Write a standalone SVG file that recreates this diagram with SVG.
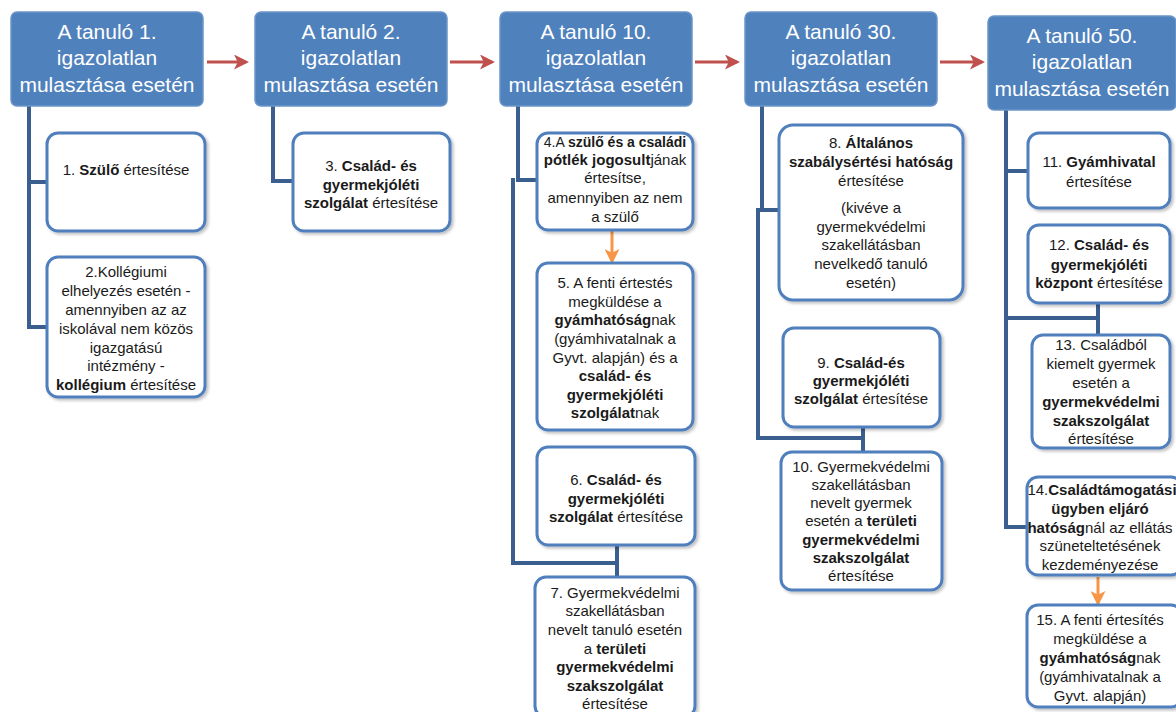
<svg xmlns="http://www.w3.org/2000/svg" width="1176" height="712" viewBox="0 0 1176 712">
<defs>
<style>
.hdr{fill:#4F81BD;stroke:#6b95c8;stroke-width:1.5}
.ht{font-family:"Liberation Sans",Arial,sans-serif;font-size:21px;fill:#fff;text-anchor:middle}
.box{fill:#fff;stroke:#4F7FBC;stroke-width:3;filter:url(#sh)}
.t{font-family:"Liberation Sans",Arial,sans-serif;font-size:15px;fill:#1a1a1a;text-anchor:middle}
.b{font-weight:bold}
.ln{fill:none;stroke:#3A5E8E;stroke-width:4}
.red{fill:none;stroke:#C0504D;stroke-width:3}
.org{fill:none;stroke:#F79646;stroke-width:3}
</style>
<filter id="sh" x="-10%" y="-10%" width="130%" height="130%">
<feDropShadow dx="2" dy="2" stdDeviation="1.5" flood-color="#000" flood-opacity="0.25"/>
</filter>
<marker id="ar" viewBox="0 0 10 10" refX="8" refY="5" markerWidth="5" markerHeight="5" orient="auto" markerUnits="strokeWidth">
<path d="M0,0 L10,5 L0,10 L2.5,5 z" fill="#C0504D"/>
</marker>
<marker id="ao" viewBox="0 0 10 10" refX="8" refY="5" markerWidth="5" markerHeight="5" orient="auto" markerUnits="strokeWidth">
<path d="M0,0 L10,5 L0,10 L2.5,5 z" fill="#F79646"/>
</marker>
</defs>
<rect width="1176" height="712" fill="#fff"/>

<g id="connectors">
<path class="red" d="M207,62 H246" marker-end="url(#ar)"/>
<path class="red" d="M450,62 H492" marker-end="url(#ar)"/>
<path class="red" d="M695,62 H737" marker-end="url(#ar)"/>
<path class="red" d="M940,62 H982" marker-end="url(#ar)"/>
<path class="ln" d="M29,106 V327"/>
<path class="ln" d="M27,182 H47"/>
<path class="ln" d="M27,327 H47"/>
<path class="ln" d="M273,106 V181 H293"/>
<path class="ln" d="M518,106 V180 H537"/>
<path class="ln" d="M513,178 V563 H617"/>
<path class="ln" d="M617,545 V577"/>
<path class="ln" d="M762,106 V210"/>
<path class="ln" d="M756,210 H779"/>
<path class="ln" d="M758,208 V438 H863"/>
<path class="ln" d="M863,427 V452"/>
<path class="ln" d="M1006,110 V527 H1027"/>
<path class="ln" d="M1004,171 H1028"/>
<path class="ln" d="M1004,318 H1098"/>
<path class="ln" d="M1098,303 V335"/>
<path class="org" d="M612,231 V261" marker-end="url(#ao)"/>
<path class="org" d="M1098,577 V603" marker-end="url(#ao)"/>
</g>

<g id="h1"><rect class="hdr" x="11" y="12" width="192" height="94" rx="6"/>
<text class="ht" x="107" y="39">A tanuló 1.</text><text class="ht" x="107" y="65">igazolatlan</text><text class="ht" x="107" y="92">mulasztása esetén</text></g>
<g id="h2"><rect class="hdr" x="255" y="12" width="192" height="94" rx="6"/>
<text class="ht" x="351" y="39">A tanuló 2.</text><text class="ht" x="351" y="65">igazolatlan</text><text class="ht" x="351" y="92">mulasztása esetén</text></g>
<g id="h3"><rect class="hdr" x="500" y="12" width="192" height="94" rx="6"/>
<text class="ht" x="596" y="39">A tanuló 10.</text><text class="ht" x="596" y="65">igazolatlan</text><text class="ht" x="596" y="92">mulasztása esetén</text></g>
<g id="h4"><rect class="hdr" x="745" y="12" width="192" height="94" rx="6"/>
<text class="ht" x="841" y="39">A tanuló 30.</text><text class="ht" x="841" y="65">igazolatlan</text><text class="ht" x="841" y="92">mulasztása esetén</text></g>
<g id="h5"><rect class="hdr" x="988" y="16" width="188" height="94" rx="6"/>
<text class="ht" x="1082" y="43">A tanuló 50.</text><text class="ht" x="1082" y="69">igazolatlan</text><text class="ht" x="1082" y="96">mulasztása esetén</text></g>

<g id="n1"><rect class="box" x="47" y="133" width="158" height="98" rx="11"/>
<text class="t" x="126" y="175">1. <tspan class="b">Szülő</tspan> értesítése</text></g>
<g id="n2"><rect class="box" x="47" y="257" width="158" height="140" rx="11"/>
<text class="t" x="126" y="277">2.Kollégiumi</text>
<text class="t" x="126" y="296">elhelyezés esetén -</text>
<text class="t" x="126" y="315">amennyiben az az</text>
<text class="t" x="126" y="334">iskolával nem közös</text>
<text class="t" x="126" y="353">igazgatású</text>
<text class="t" x="126" y="371">intézmény -</text>
<text class="t" x="126" y="390"><tspan class="b">kollégium</tspan> értesítése</text></g>

<g id="n3"><rect class="box" x="293" y="133" width="157" height="98" rx="11"/>
<text class="t" x="371" y="171">3. <tspan class="b">Család- és</tspan></text>
<text class="t b" x="371" y="190">gyermekjóléti</text>
<text class="t" x="371" y="208"><tspan class="b">szolgálat</tspan> értesítése</text></g>

<g id="n4"><rect class="box" x="537" y="133" width="156" height="97" rx="11"/>
<text class="t" x="615" y="147" style="font-size:14px">4.A <tspan class="b">szülő és a családi</tspan></text>
<text class="t" x="615" y="165"><tspan class="b">pótlék jogosult</tspan>jának</text>
<text class="t" x="615" y="183">értesítse,</text>
<text class="t" x="615" y="203">amennyiben az nem</text>
<text class="t" x="615" y="222">a szülő</text></g>
<g id="n5"><rect class="box" x="537" y="263" width="156" height="167" rx="11"/>
<text class="t" x="615" y="288">5. A fenti értestés</text>
<text class="t" x="615" y="307">megküldése a</text>
<text class="t" x="615" y="325"><tspan class="b">gyámhatóság</tspan>nak</text>
<text class="t" x="615" y="344">(gyámhivatalnak a</text>
<text class="t" x="615" y="363">Gyvt. alapján) és a</text>
<text class="t b" x="615" y="381">család- és</text>
<text class="t b" x="615" y="400">gyermekjóléti</text>
<text class="t" x="615" y="418"><tspan class="b">szolgálat</tspan>nak</text></g>
<g id="n6"><rect class="box" x="537" y="447" width="158" height="98" rx="11"/>
<text class="t" x="616" y="485">6. <tspan class="b">Család- és</tspan></text>
<text class="t b" x="616" y="504">gyermekjóléti</text>
<text class="t" x="616" y="522"><tspan class="b">szolgálat</tspan> értesítése</text></g>
<g id="n7"><rect class="box" x="535" y="577" width="160" height="140" rx="11"/>
<text class="t" x="615" y="598">7. Gyermekvédelmi</text>
<text class="t" x="615" y="616">szakellátásban</text>
<text class="t" x="615" y="635">nevelt tanuló esetén</text>
<text class="t" x="615" y="654">a <tspan class="b">területi</tspan></text>
<text class="t b" x="615" y="672">gyermekvédelmi</text>
<text class="t b" x="615" y="691">szakszolgálat</text>
<text class="t" x="615" y="709">értesítése</text></g>

<g id="n8"><rect class="box" x="779" y="125" width="184" height="175" rx="14"/>
<text class="t" x="871" y="148">8. <tspan class="b">Általános</tspan></text>
<text class="t b" x="871" y="167">szabálysértési hatóság</text>
<text class="t" x="871" y="186">értesítése</text>
<text class="t" x="871" y="213">(kivéve a</text>
<text class="t" x="871" y="232">gyermekvédelmi</text>
<text class="t" x="871" y="250">szakellátásban</text>
<text class="t" x="871" y="269">nevelkedő tanuló</text>
<text class="t" x="871" y="288">esetén)</text></g>
<g id="n9"><rect class="box" x="783" y="328" width="157" height="99" rx="11"/>
<text class="t" x="861" y="368">9. <tspan class="b">Család-és</tspan></text>
<text class="t b" x="861" y="386">gyermekjóléti</text>
<text class="t" x="861" y="404"><tspan class="b">szolgálat</tspan> értesítése</text></g>
<g id="n10"><rect class="box" x="781" y="452" width="161" height="138" rx="11"/>
<text class="t" x="861" y="472">10. Gyermekvédelmi</text>
<text class="t" x="861" y="490">szakellátásban</text>
<text class="t" x="861" y="508">nevelt gyermek</text>
<text class="t" x="861" y="526">esetén a <tspan class="b">területi</tspan></text>
<text class="t b" x="861" y="545">gyermekvédelmi</text>
<text class="t b" x="861" y="563">szakszolgálat</text>
<text class="t" x="861" y="581">értesítése</text></g>

<g id="n11"><rect class="box" x="1028" y="133" width="142" height="75" rx="11"/>
<text class="t" x="1099" y="167">11. <tspan class="b">Gyámhivatal</tspan></text>
<text class="t" x="1099" y="187">értesítése</text></g>
<g id="n12"><rect class="box" x="1028" y="225" width="142" height="78" rx="11"/>
<text class="t" x="1099" y="250">12. <tspan class="b">Család- és</tspan></text>
<text class="t b" x="1099" y="270">gyermekjóléti</text>
<text class="t" x="1099" y="288"><tspan class="b">központ</tspan> értesítése</text></g>
<g id="n13"><rect class="box" x="1032" y="335" width="138" height="113" rx="11"/>
<text class="t" x="1101" y="350">13. Családból</text>
<text class="t" x="1101" y="369">kiemelt gyermek</text>
<text class="t" x="1101" y="388">esetén a</text>
<text class="t b" x="1101" y="407">gyermekvédelmi</text>
<text class="t b" x="1101" y="426">szakszolgálat</text>
<text class="t" x="1101" y="444">értesítése</text></g>
<g id="n14"><rect class="box" x="1027" y="477" width="155" height="98" rx="11"/>
<text class="t" x="1102" y="495">14.<tspan class="b">Családtámogatási</tspan></text>
<text class="t b" x="1100" y="514">ügyben eljáró</text>
<text class="t" x="1100" y="533"><tspan class="b">hatóság</tspan>nál az ellátás</text>
<text class="t" x="1100" y="551">szüneteltetésének</text>
<text class="t" x="1100" y="570">kezdeményezése</text></g>
<g id="n15"><rect class="box" x="1027" y="605" width="155" height="102" rx="11"/>
<text class="t" x="1100" y="625">15. A fenti értesítés</text>
<text class="t" x="1100" y="644">megküldése a</text>
<text class="t" x="1100" y="663"><tspan class="b">gyámhatóság</tspan>nak</text>
<text class="t" x="1100" y="682">(gyámhivatalnak a</text>
<text class="t" x="1100" y="701">Gyvt. alapján)</text></g>
</svg>
